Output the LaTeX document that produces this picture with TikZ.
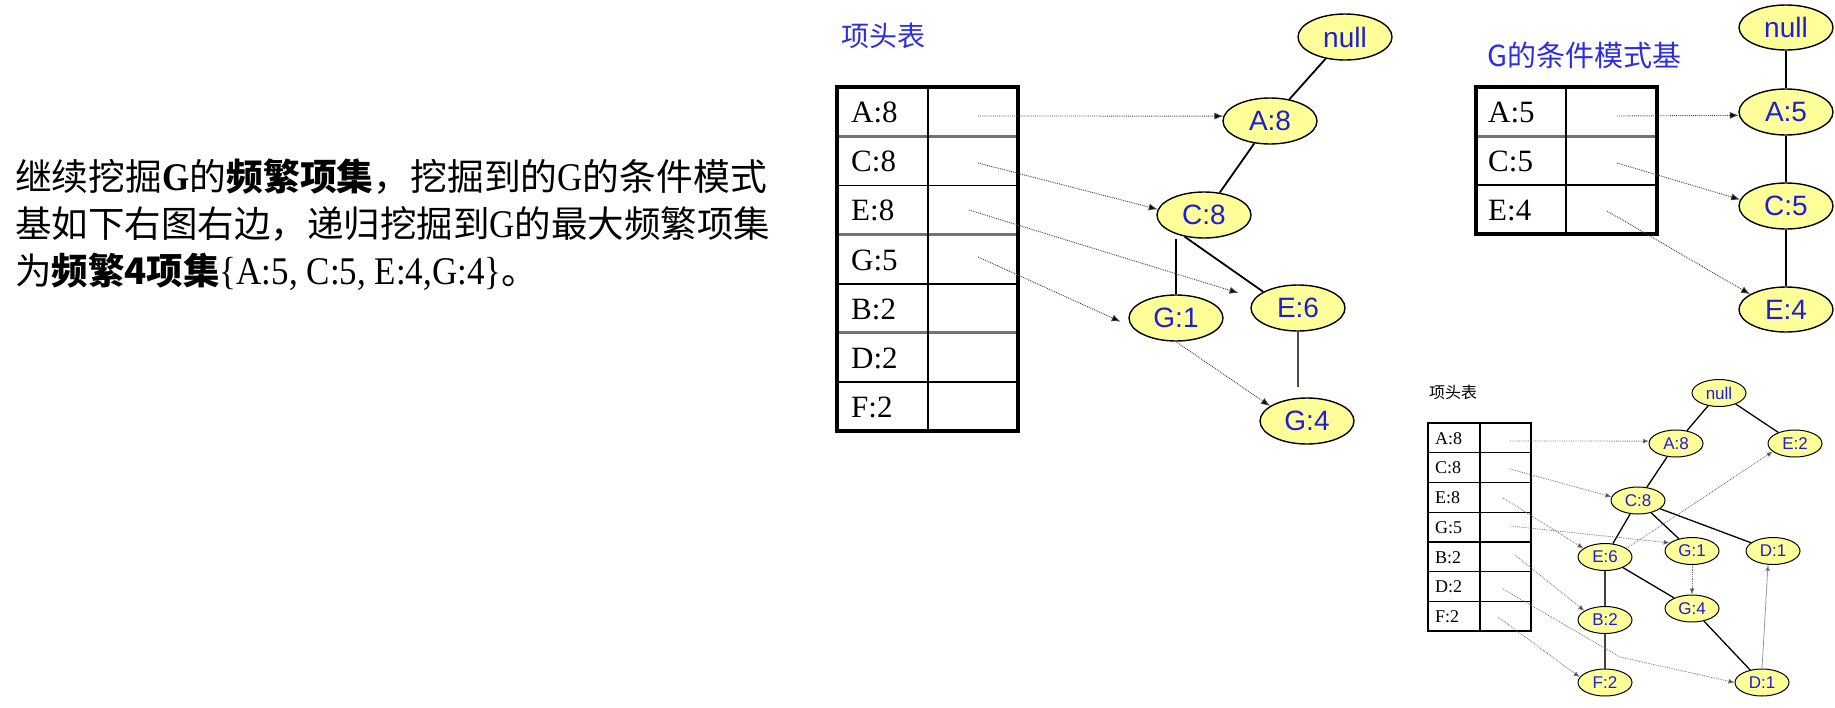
\documentclass[tikz,border=0pt]{standalone}
\usepackage{fontspec}
\setmainfont{Liberation Serif}
\newfontfamily\cjk{Noto Sans CJK SC}
\newfontfamily\sans{Liberation Sans}
\newcommand\cjbig{\cjk\fontsize{36.5}{36.5}\selectfont}
\newcommand\cjone{\cjk\fontsize{36.8}{36.8}\selectfont}
\newcommand\tallat[1]{\scalebox{1}[1.12]{#1}}
\usetikzlibrary{shapes.geometric,arrows.meta}
\definecolor{ndfill}{RGB}{255,255,153}
\definecolor{ndblue}{RGB}{30,30,215}
\definecolor{ttlblue}{RGB}{45,45,225}
\begin{document}
\begin{tikzpicture}[x=1pt,y=-1pt,
  txt/.style={inner sep=0pt,anchor=base west,font=\fontsize{35}{35}\selectfont},
  nd/.style={ellipse,draw=black,line width=1.4pt,fill=ndfill,minimum width=94pt,minimum height=46pt,inner sep=0pt,text=ndblue,font=\sans\fontsize{28}{28}\selectfont},
  snd/.style={ellipse,draw=black,line width=1pt,fill=ndfill,minimum width=54pt,minimum height=27pt,inner sep=0pt,text=ndblue,font=\sans\fontsize{17}{17}\selectfont},
  lbl/.style={inner sep=0pt,anchor=west,font=\fontsize{31}{31}\selectfont},
  slbl/.style={inner sep=0pt,anchor=west,font=\fontsize{18}{18}\selectfont},
  ptr/.style={densely dotted,line width=0.9pt,draw=black!75,-{Latex[length=9pt,width=7pt,fill=black]}},
  sptr/.style={densely dotted,line width=0.8pt,draw=black!55,-{Latex[length=6pt,width=5pt,fill=black!80]}},
  edge/.style={line width=1.8pt},
  sedge/.style={line width=1.3pt},
  ttl/.style={inner sep=0pt,anchor=west,text=ttlblue,font=\cjk\fontsize{28}{28}\selectfont}
]
\useasboundingbox (0,0) rectangle (1835,707);

% ---- left text ----
\node[txt] (l1) at (15,190.5) {{\cjone 继续挖掘}\tallat{\textbf{G}}{\cjone 的\bfseries 频繁项集}{\cjone ，挖掘到的}\tallat{G}{\cjone 的条件模式}};
\node[txt] (l2) at (15,237) {{\cjbig 基如下右图右边，递归挖掘到}\tallat{G}{\cjbig 的最大频繁项集}};
\node[txt] (l3) at (15,284) {{\cjbig 为\bfseries 频繁4项集}\tallat{\{A:5, C:5, E:4,G:4\}}{\cjbig 。}};

% ---- table 1 ----
\node[ttl] (h1) at (841,36) {项头表};
\draw[line width=3pt,draw=black!55] (837,136.1) -- (1018,136.1) (837,234.4) -- (1018,234.4) (837,332.7) -- (1018,332.7);
\draw[line width=1.3pt] (837,185.3) -- (1018,185.3) (837,381.9) -- (1018,381.9);
\draw[line width=2pt] (837,283.6) -- (1018,283.6);
\draw[line width=2pt] (928,87) -- (928,431);
\draw[line width=3.5pt] (837,87) rectangle (1018,431);
\node[lbl] (t1a) at (851,112.6) {A:8};
\node[lbl] (t1c) at (851,161.7) {C:8};
\node[lbl] (t1e) at (851,210.9) {E:8};
\node[lbl] (t1g) at (851,260) {G:5};
\node[lbl] (t1b) at (851,309.1) {B:2};
\node[lbl] (t1d) at (851,358.3) {D:2};
\node[lbl] (t1f) at (851,407.4) {F:2};
\coordinate (p1a) at (978,116);
\coordinate (p1c) at (978,163);
\coordinate (p1e) at (969,210);
\coordinate (p1g) at (978,257);

% ---- tree 1 ----
\node[nd] (n0) at (1345,37) {null};
\node[nd] (a8) at (1270,121) {A:8};
\node[nd] (c8) at (1204,215) {C:8};
\node[nd] (g1) at (1176,318) {G:1};
\node[nd] (e6) at (1298,308) {E:6};
\node[nd] (g4) at (1307,421) {G:4};
\draw[edge] (n0) -- (a8);
\draw[edge] (a8) -- (c8);
\draw[edge] (g1.north) -- (g1.north |- c8.south);
\draw[edge] (c8.228) -- (e6.155);
\draw[edge,draw=black!70,shorten >=10pt] (e6.south) -- (e6.south |- g4.north);
\draw[ptr] (p1a) -- (a8.174);
\draw[ptr] (p1c) -- (c8.173);
\draw[ptr,shorten >=17pt] (p1e) -- (e6.167);
\draw[ptr,shorten >=12pt] (p1g) -- (g1.191);
\draw[ptr] (g1.south) -- (g4.158);

% ---- table 2 ----
\node[ttl,font=\cjk\fontsize{29}{29}\selectfont] (h2) at (1487,55) {G的条件模式基};
\draw[line width=3pt,draw=black!55] (1476,136) -- (1657,136);
\draw[line width=1.3pt] (1476,185) -- (1657,185);
\draw[line width=1.5pt] (1566,87) -- (1566,234);
\draw[line width=3.5pt] (1476,87) rectangle (1657,234);
\node[lbl] (t2a) at (1488,112.5) {A:5};
\node[lbl] (t2c) at (1488,161.5) {C:5};
\node[lbl] (t2e) at (1488,210.5) {E:4};
\coordinate (p2a) at (1617,116);
\coordinate (p2c) at (1617,163);
\coordinate (p2e) at (1607,211);

% ---- tree 2 ----
\node[nd,minimum height=45pt] (m0) at (1786,27.5) {null};
\node[nd] (a5) at (1786,112) {A:5};
\node[nd] (c5) at (1786,206) {C:5};
\node[nd,minimum height=45pt] (e4) at (1786,309.5) {E:4};
\draw[edge] (m0) -- (a5);
\draw[edge] (a5) -- (c5);
\draw[edge] (c5) -- (e4);
\draw[ptr] (p2a) -- (a5.184);
\draw[ptr] (p2c) -- (c5.172);
\draw[ptr] (p2e) -- (e4.157);

% ---- table 3 ----
\node[inner sep=0pt,anchor=west,font=\cjk\fontsize{16}{16}\selectfont] (h3) at (1429,392) {项头表};
\draw[line width=1.2pt] (1428,452.7) -- (1531,452.7) (1428,482.4) -- (1531,482.4) (1428,512.1) -- (1531,512.1) (1428,541.9) -- (1531,541.9) (1428,571.6) -- (1531,571.6) (1428,601.3) -- (1531,601.3);
\draw[line width=1.8pt] (1480,423) -- (1480,631);
\draw[line width=2pt] (1428,423) rectangle (1531,631);
\node[slbl] (t3a) at (1435,438.4) {A:8};
\node[slbl] (t3c) at (1435,468.1) {C:8};
\node[slbl] (t3e) at (1435,497.8) {E:8};
\node[slbl] (t3g) at (1435,527.5) {G:5};
\node[slbl] (t3b) at (1435,557.2) {B:2};
\node[slbl] (t3d) at (1435,586.9) {D:2};
\node[slbl] (t3f) at (1435,616.6) {F:2};
\coordinate (p3a) at (1510,441);
\coordinate (p3c) at (1510,469);
\coordinate (p3e) at (1503,498);
\coordinate (p3g) at (1510,526);
\coordinate (p3b) at (1515,555);
\coordinate (p3d) at (1503,589);
\coordinate (p3f) at (1498,617);
\coordinate (dbend) at (1620,657);

% ---- tree 3 ----
\node[snd] (s0) at (1719,393) {null};
\node[snd] (sa8) at (1676,443.5) {A:8};
\node[snd] (se2) at (1795,443.5) {E:2};
\node[snd] (sc8) at (1638,500.5) {C:8};
\node[snd] (se6) at (1605,557) {E:6};
\node[snd] (sg1) at (1692,551) {G:1};
\node[snd] (sd1) at (1773,551) {D:1};
\node[snd] (sg4) at (1692,608.5) {G:4};
\node[snd] (sb2) at (1605,620) {B:2};
\node[snd] (sf2) at (1605,682.5) {F:2};
\node[snd] (sd2) at (1762,682.5) {D:1};
\draw[sedge] (s0) -- (sa8);
\draw[sedge] (s0) -- (se2);
\draw[sedge] (sa8) -- (sc8);
\draw[sedge] (sc8) -- (se6);
\draw[sedge] (sc8) -- (sg1);
\draw[sedge] (sc8) -- (sd1);
\draw[sedge] (se6) -- (sg4);
\draw[sedge] (sg4) -- (sd2);
\draw[sedge,draw=black!75] (se6.south) -- (sb2.north);
\draw[sedge,draw=black!75] (sb2.south) -- (sf2.north);
\draw[sptr] (p3a) -- (sa8.175);
\draw[sptr] (p3c) -- (sc8.172);
\draw[sptr] (p3e) -- (se6.158);
\draw[sptr] (p3g) -- (sg1.160);
\draw[sptr] (p3b) -- (sb2.156);
\draw[sptr] (p3d) -- (dbend) -- (sd2.west);
\draw[sptr] (p3f) -- (sf2.168);
\draw[sptr] (se6.22) -- (se2.200);
\draw[sptr] (sg1.south) -- (sg4.north);
\draw[line width=0.8pt,draw=black!40,-{Latex[length=6pt,width=5pt,fill=black!80]}] (sd2.north) -- (sd1.250);
\end{tikzpicture}
\end{document}
